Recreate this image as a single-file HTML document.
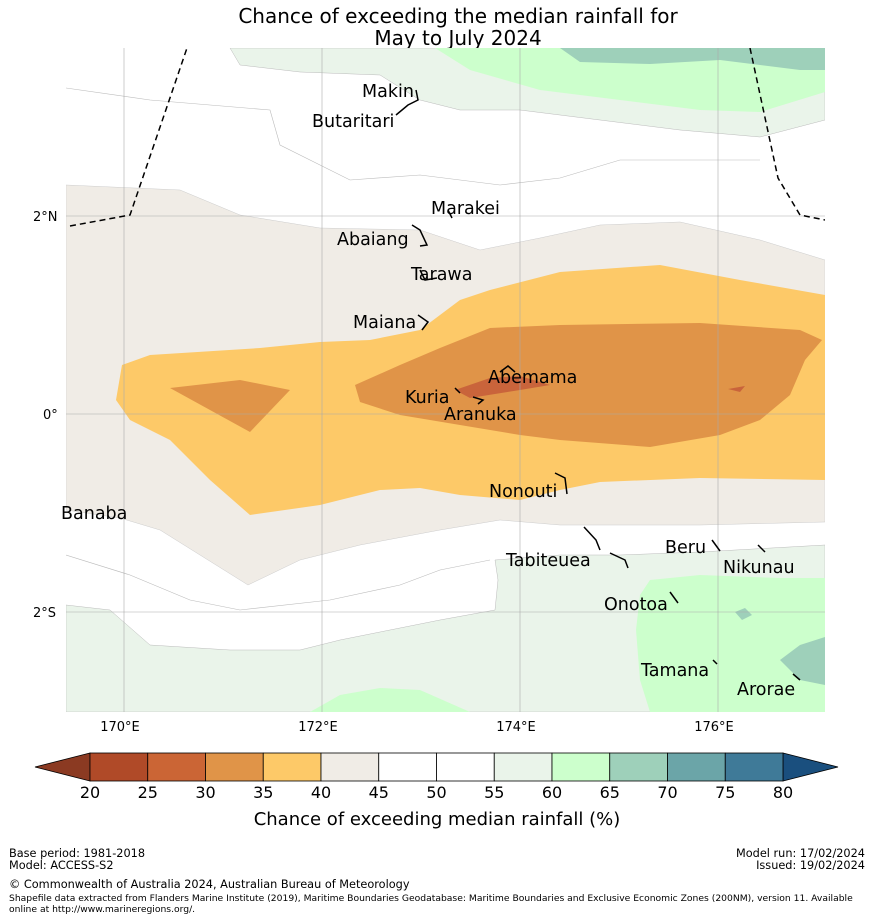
<!DOCTYPE html>
<html><head><meta charset="utf-8">
<style>
body{margin:0;background:#fff;font-family:"DejaVu Sans","Liberation Sans",sans-serif;}
svg{display:block}
</style></head>
<body>
<svg id="chart" width="873" height="919" xmlns="http://www.w3.org/2000/svg" font-family="DejaVu Sans, Liberation Sans, sans-serif">
<rect width="873" height="919" fill="#fff"/>
<text x="458" y="23" font-size="20" text-anchor="middle" fill="#000">Chance of exceeding the median rainfall for</text>
<text x="458" y="45" font-size="20" text-anchor="middle" fill="#000">May to July 2024</text>
<defs><clipPath id="mc"><rect x="66" y="48" width="759" height="664"/></clipPath></defs>
<g id="map" clip-path="url(#mc)">
<path fill="#F0ECE6" stroke="#ccc" stroke-width="0.5" d="M66,185 L180,190 L240,215 L320,228 L420,230 L480,250 L540,238 L600,225 L680,222 L760,240 L825,260 L825,522 L700,525 L560,525 L500,520 L440,530 L360,545 L300,560 L248,585 L200,555 L160,530 L120,518 L66,510 Z"/>
<path fill="#FDC968" d="M122,365 L150,355 L260,348 L320,342 L370,340 L420,330 L460,300 L490,290 L560,272 L660,265 L740,280 L825,295 L825,480 L700,478 L600,482 L560,490 L520,500 L460,495 L420,488 L380,490 L320,505 L250,515 L210,480 L170,440 L130,420 L116,400 Z"/>
<path fill="#E09448" d="M355,385 L400,365 L440,348 L490,328 L560,325 L700,323 L800,330 L822,340 L805,360 L790,395 L760,420 L720,435 L650,447 L560,440 L520,435 L460,425 L400,415 L360,402 Z"/>
<path fill="#E09448" d="M170,388 L240,380 L290,390 L250,432 Z"/>
<path fill="#C9643B" d="M455,390 L490,378 L520,376 L550,385 L520,390 L470,398 Z"/>
<path fill="#C9643B" d="M728,389 L745,386 L740,392 Z"/>
<path fill="#EAF4EA" stroke="#bbb" stroke-width="0.5" d="M230,48 L240,65 L300,72 L380,75 L420,100 L460,110 L520,110 L600,120 L680,130 L760,137 L825,120 L825,48 Z"/>
<path fill="#EAF4EA" stroke="#bbb" stroke-width="0.5" d="M66,605 L110,610 L150,645 L230,650 L300,650 L340,640 L440,620 L495,610 L498,580 L495,560 L560,555 L620,555 L700,552 L825,545 L825,712 L66,712 Z"/>
<path fill="#CCFFCC" d="M435,48 L470,70 L540,90 L620,100 L700,110 L760,112 L825,92 L825,48 Z"/>
<path fill="#CCFFCC" d="M640,595 L650,580 L700,575 L780,578 L825,578 L825,712 L650,712 L640,680 L636,630 Z"/>
<path fill="#CCFFCC" d="M310,712 L340,695 L380,688 L420,690 L470,712 Z"/>
<path fill="#9ED0BA" d="M560,48 L580,62 L650,64 L720,60 L800,70 L825,70 L825,48 Z"/>
<path fill="#9ED0BA" d="M780,660 L800,645 L825,637 L825,685 L800,680 Z"/>
<path fill="#9ED0BA" d="M735,612 L745,608 L752,615 L742,620 Z"/>
<path fill="none" stroke="#bbb" stroke-width="0.6" d="M66,88 L150,100 L270,110 L280,145 L350,180 L420,175 L500,185 L560,178 L620,160 L680,160 L760,160"/>
<path fill="none" stroke="#bbb" stroke-width="0.6" d="M66,555 L130,575 L190,600 L240,610 L330,600 L400,585 L440,570 L490,560"/>
<g stroke="#aaa" stroke-width="0.6">
<line x1="124" y1="48" x2="124" y2="712"/><line x1="322" y1="48" x2="322" y2="712"/>
<line x1="520" y1="48" x2="520" y2="712"/><line x1="718" y1="48" x2="718" y2="712"/>
<line x1="66" y1="216" x2="825" y2="216"/><line x1="66" y1="414" x2="825" y2="414"/><line x1="66" y1="612" x2="825" y2="612"/>
</g>
<path fill="none" stroke="#000" stroke-width="1.5" stroke-dasharray="6,4" d="M70,226 L130,215 L187,48"/>
<path fill="none" stroke="#000" stroke-width="1.5" stroke-dasharray="6,4" d="M750,48 L778,178 L800,215 L825,220"/>
<g fill="none" stroke="#000" stroke-width="1.5">
<path d="M396,115 L408,105 L418,100 L416,90"/><path d="M412,225 L420,230 L427,245 L420,246"/><path d="M420,270 L425,280 L437,278"/>
<path d="M418,315 L428,322 L422,330"/><path d="M448,210 L452,218"/><path d="M500,372 L508,366 L515,372"/>
<path d="M455,388 L460,393"/><path d="M473,397 L483,400 L478,404"/><path d="M555,473 L565,478 L567,494"/>
<path d="M584,527 L596,540 L600,550"/><path d="M610,553 L625,560 L628,568"/><path d="M712,540 L720,551"/>
<path d="M758,545 L765,552"/><path d="M670,592 L678,603"/><path d="M713,660 L717,664"/><path d="M793,674 L800,680"/>
</g>
</g>
<g font-size="17.5" fill="#000">
<text x="362" y="97">Makin</text><text x="312" y="127">Butaritari</text><text x="431" y="214">Marakei</text>
<text x="337" y="245">Abaiang</text><text x="411" y="280">Tarawa</text><text x="353" y="328">Maiana</text>
<text x="488" y="383">Abemama</text><text x="405" y="403">Kuria</text><text x="444" y="420">Aranuka</text>
<text x="489" y="497">Nonouti</text><text x="61" y="519">Banaba</text><text x="506" y="566">Tabiteuea</text>
<text x="665" y="553">Beru</text><text x="723" y="573">Nikunau</text><text x="604" y="610">Onotoa</text>
<text x="641" y="676">Tamana</text><text x="737" y="695">Arorae</text>
</g>
<g font-size="13" fill="#000">
<text x="33" y="221">2°N</text><text x="43" y="419">0°</text><text x="33" y="617">2°S</text>
<text x="120" y="731" text-anchor="middle">170°E</text><text x="318" y="731" text-anchor="middle">172°E</text>
<text x="516" y="731" text-anchor="middle">174°E</text><text x="714" y="731" text-anchor="middle">176°E</text>
</g>
<g id="cbar"></g>
<text x="437" y="825" font-size="18" text-anchor="middle">Chance of exceeding median rainfall (%)</text>
<g font-size="11.3" fill="#000">
<text x="9" y="857">Base period: 1981-2018</text><text x="9" y="869">Model: ACCESS-S2</text>
<text x="865" y="857" text-anchor="end">Model run: 17/02/2024</text><text x="865" y="869" text-anchor="end">Issued: 19/02/2024</text>
<text x="9" y="888">© Commonwealth of Australia 2024, Australian Bureau of Meteorology</text>
<text x="9" y="901" font-size="9.2">Shapefile data extracted from Flanders Marine Institute (2019), Maritime Boundaries Geodatabase: Maritime Boundaries and Exclusive Economic Zones (200NM), version 11. Available</text>
<text x="9" y="912" font-size="9.2">online at http://www.marineregions.org/.</text>
</g>
</svg>
<script>
const binEdges=[20,25,30,35,40,45,50,55,60,65,70,75,80];
const binColors=["#B04A28","#CB6535","#E09448","#FDC968","#F0ECE6","#FFFFFF","#FFFFFF","#EAF4EA","#CCFFCC","#9ED0BA","#6BA5A8","#3F7A98"];
const ns="http://www.w3.org/2000/svg";
const g=document.getElementById('cbar');
const x0=90,x1=783,y0=753,h=28;
const sx=v=>x0+(v-binEdges[0])/(binEdges[binEdges.length-1]-binEdges[0])*(x1-x0);
let tl=document.createElementNS(ns,'path');
tl.setAttribute('d',`M${x0},${y0} L35,${y0+h/2} L${x0},${y0+h} Z`);
tl.setAttribute('fill','#8B3A22');tl.setAttribute('stroke','#000');tl.setAttribute('stroke-width','0.8');


g.appendChild(tl);
let tr=document.createElementNS(ns,'path');
tr.setAttribute('d',`M${x1},${y0} L838,${y0+h/2} L${x1},${y0+h} Z`);
tr.setAttribute('fill','#1A4F7E');tr.setAttribute('stroke','#000');tr.setAttribute('stroke-width','0.8');


g.appendChild(tr);
for(let i=0;i<binColors.length;i++){
  const r=document.createElementNS(ns,'rect');
  r.setAttribute('x',sx(binEdges[i]));r.setAttribute('y',y0);
  r.setAttribute('width',sx(binEdges[i+1])-sx(binEdges[i]));r.setAttribute('height',h);
  r.setAttribute('fill',binColors[i]);r.setAttribute('stroke','#000');r.setAttribute('stroke-width','0.8');
  
  
  g.appendChild(r);
}
binEdges.forEach(v=>{
  const t=document.createElementNS(ns,'text');
  t.setAttribute('x',sx(v));t.setAttribute('y',798);t.setAttribute('font-size','16');t.setAttribute('text-anchor','middle');
  t.textContent=v;
  
  
  g.appendChild(t);
});
</script>
</body></html>
